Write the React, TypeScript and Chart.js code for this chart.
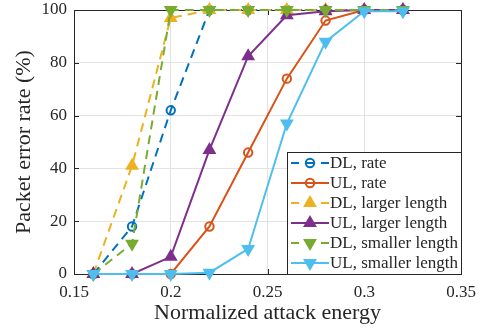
import React, { useEffect, useRef } from "react";
import { Chart, registerables } from "chart.js";

Chart.register(...registerables);

const energy = [0.16, 0.18, 0.2, 0.22, 0.24, 0.26, 0.28, 0.3, 0.32];
const dlRate = [0, 18, 62, 100, 100, 100, 100, 100, 100];
const ulRate = [0, 0, 0, 18, 46, 74, 96, 100, 100];
const dlLarger = [0, 41, 97, 100, 100, 100, 100, 100, 100];
const ulLarger = [0, 0, 6.5, 47, 82.5, 98, 99.5, 100, 100];
const dlSmaller = [0, 11.5, 100, 100, 100, 100, 100, 100, 100];
const ulSmaller = [0, 0, 0, 0.5, 9.5, 57, 88, 99.5, 99.5];

const seriesLabels = [
  "DL, rate",
  "UL, rate",
  "DL, larger length",
  "UL, larger length",
  "DL, smaller length",
  "UL, smaller length",
];
const xTicks = [0.15, 0.2, 0.25, 0.3, 0.35];
const xTickLabels = ["0.15", "0.2", "0.25", "0.3", "0.35"];
const yTicks = [0, 20, 40, 60, 80, 100];
const xTitle = "Normalized attack energy";
const yTitle = "Packet error rate (%)";

const FONT = "Liberation Serif, DejaVu Serif, serif";
const AXIS_COLOR = "#262626";

type Style = { color: string; dash: number[]; marker: "circle" | "up" | "down" };
const styles: Style[] = [
  { color: "#0072BD", dash: [9, 6], marker: "circle" },
  { color: "#D95319", dash: [], marker: "circle" },
  { color: "#EDB120", dash: [9, 6], marker: "up" },
  { color: "#7E2F8E", dash: [], marker: "up" },
  { color: "#77AC30", dash: [9, 6], marker: "down" },
  { color: "#4DBEEE", dash: [], marker: "down" },
];
const seriesValues = [dlRate, ulRate, dlLarger, ulLarger, dlSmaller, ulSmaller];

function drawMarker(ctx: CanvasRenderingContext2D, s: Style, x: number, y: number) {
  ctx.save();
  ctx.setLineDash([]);
  ctx.strokeStyle = s.color;
  ctx.fillStyle = s.color;
  ctx.lineWidth = 2;
  ctx.beginPath();
  if (s.marker === "circle") {
    ctx.arc(x, y, 4.2, 0, Math.PI * 2);
    ctx.stroke();
  } else {
    const r = 6;
    const dir = s.marker === "up" ? -1 : 1;
    ctx.moveTo(x, y + dir * r);
    ctx.lineTo(x - r * 0.87, y - dir * r * 0.5);
    ctx.lineTo(x + r * 0.87, y - dir * r * 0.5);
    ctx.closePath();
    ctx.fill();
    ctx.stroke();
  }
  ctx.restore();
}

const framePlugin = {
  id: "frameTicks",
  beforeDatasetsDraw(chart: any) {
    const { ctx, chartArea: a, scales } = chart;
    ctx.save();
    ctx.strokeStyle = AXIS_COLOR;
    ctx.lineWidth = 1;
    ctx.strokeRect(a.left + 0.5, a.top + 0.5, a.right - a.left, a.bottom - a.top);
    ctx.beginPath();
    const tl = 5;
    xTicks.forEach((v) => {
      const px = Math.round(scales.x.getPixelForValue(v)) + 0.5;
      ctx.moveTo(px, a.bottom);
      ctx.lineTo(px, a.bottom - tl);
      ctx.moveTo(px, a.top);
      ctx.lineTo(px, a.top + tl);
    });
    yTicks.forEach((v) => {
      const py = Math.round(scales.y.getPixelForValue(v)) + 0.5;
      ctx.moveTo(a.left, py);
      ctx.lineTo(a.left + tl, py);
      ctx.moveTo(a.right, py);
      ctx.lineTo(a.right - tl, py);
    });
    ctx.stroke();
    ctx.restore();
  },
};

const legendPlugin = {
  id: "matLegend",
  afterDraw(chart: any) {
    const { ctx, chartArea: a } = chart;
    const w = 175;
    const rowH = 20;
    const h = rowH * seriesLabels.length + 2;
    const x0 = a.right + 1 - w;
    const y0 = a.bottom - h;
    ctx.save();
    ctx.fillStyle = "#ffffff";
    ctx.fillRect(x0, y0, w, h);
    ctx.strokeStyle = AXIS_COLOR;
    ctx.lineWidth = 1;
    ctx.strokeRect(x0 + 0.5, y0 + 0.5, w - 1, h);
    seriesLabels.forEach((label, i) => {
      const s = styles[i];
      const cy = y0 + 11 + rowH * i;
      ctx.strokeStyle = s.color;
      ctx.lineWidth = 2;
      ctx.setLineDash(s.dash.length ? [8, 7] : []);
      ctx.beginPath();
      ctx.moveTo(x0 + 4, cy);
      ctx.lineTo(x0 + 42, cy);
      ctx.stroke();
      drawMarker(ctx, s, x0 + 23, cy);
      ctx.setLineDash([]);
      ctx.fillStyle = AXIS_COLOR;
      ctx.font = `17px ${FONT}`;
      ctx.textBaseline = "middle";
      ctx.textAlign = "left";
      ctx.fillText(label, x0 + 43, cy + 1);
    });
    ctx.restore();
  },
};

export default function App() {
  const ref = useRef<HTMLCanvasElement | null>(null);

  useEffect(() => {
    document.body.style.margin = "0";
    const canvas = ref.current!;
    const n = seriesLabels.length;
    const chart = new Chart(canvas, {
      type: "line",
      data: {
        datasets: seriesLabels.map((label, i) => ({
          label,
          data: energy.map((x, j) => ({ x, y: seriesValues[i][j] })),
          borderColor: styles[i].color,
          backgroundColor: styles[i].marker === "circle" ? "rgba(0,0,0,0)" : styles[i].color,
          borderWidth: 2,
          borderDash: styles[i].dash,
          pointStyle: styles[i].marker === "circle" ? "circle" : "triangle",
          pointRotation: styles[i].marker === "down" ? 180 : 0,
          pointRadius: styles[i].marker === "circle" ? 4.2 : 6,
          pointBorderWidth: 2,
          pointBorderColor: styles[i].color,
          pointBackgroundColor: styles[i].marker === "circle" ? "rgba(0,0,0,0)" : styles[i].color,
          tension: 0,
          fill: false,
          clip: false as any,
          order: n - i,
        })),
      },
      options: {
        animation: false,
        responsive: false,
        layout: { padding: { top: 10, right: 23, bottom: 0, left: 0 } },
        plugins: { legend: { display: false }, tooltip: { enabled: false } },
        scales: {
          x: {
            type: "linear",
            min: 0.15,
            max: 0.35,
            afterBuildTicks: (s: any) => {
              s.ticks = xTicks.map((v) => ({ value: v }));
            },
            afterFit: (s: any) => {
              s.height = 55;
              s.paddingLeft = 0;
              s.paddingRight = 0;
            },
            ticks: {
              callback: (v: any) => {
                const k = xTicks.findIndex((t) => Math.abs(t - Number(v)) < 1e-9);
                return k >= 0 ? xTickLabels[k] : "";
              },
              color: AXIS_COLOR,
              font: { family: FONT, size: 17 },
              padding: 8,
              maxRotation: 0,
              autoSkip: false,
            },
            grid: { color: "#e3e3e3", drawTicks: false, lineWidth: 1 },
            border: { display: false },
            title: {
              display: true,
              text: xTitle,
              color: AXIS_COLOR,
              font: { family: FONT, size: 22 },
              padding: { top: 3, bottom: 3 },
            },
          },
          y: {
            type: "linear",
            min: 0,
            max: 100,
            afterBuildTicks: (s: any) => {
              s.ticks = yTicks.map((v) => ({ value: v }));
            },
            afterFit: (s: any) => {
              s.width = 74;
              s.paddingTop = 0;
              s.paddingBottom = 0;
            },
            ticks: {
              color: AXIS_COLOR,
              font: { family: FONT, size: 17 },
              padding: 7,
              autoSkip: false,
            },
            grid: { color: "#e3e3e3", drawTicks: false, lineWidth: 1 },
            border: { display: false },
            title: {
              display: true,
              text: yTitle,
              color: AXIS_COLOR,
              font: { family: FONT, size: 22 },
              padding: { top: 11, bottom: 11 },
            },
          },
        },
      },
      plugins: [framePlugin, legendPlugin],
    } as any);
    return () => chart.destroy();
  }, []);

  return <canvas ref={ref} width={484} height={329} style={{ display: "block" }} />;
}
